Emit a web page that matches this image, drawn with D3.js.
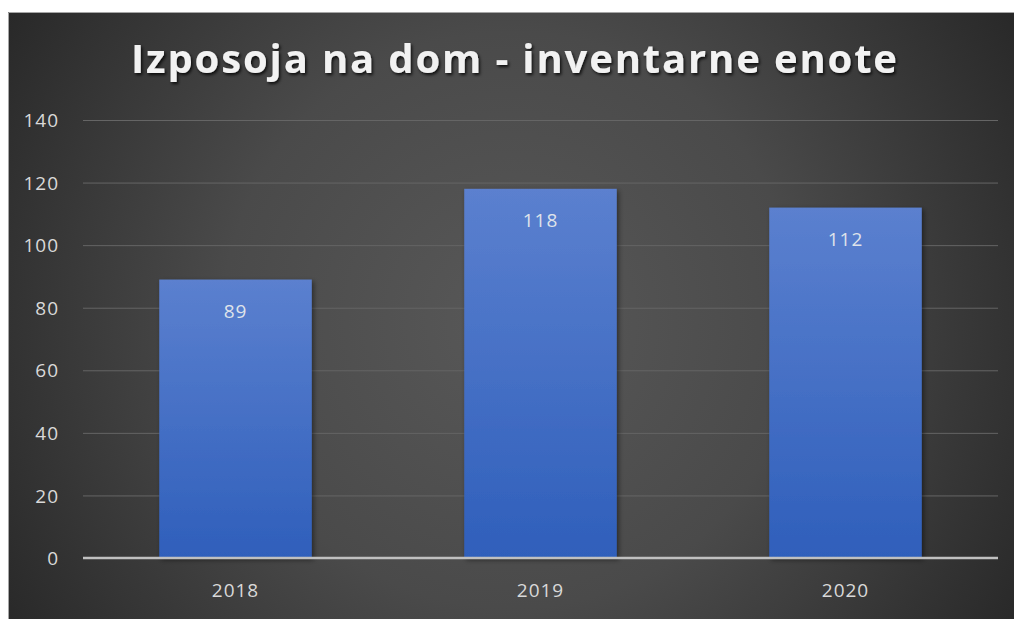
<!DOCTYPE html>
<html>
<head>
<meta charset="utf-8">
<script src="https://cdn.jsdelivr.net/npm/d3@7"></script>
<style>
  html, body { margin: 0; padding: 0; background: #ffffff; }
  svg { display: block; }
</style>
</head>
<body>
<svg id="chart" width="1014" height="619"></svg>
<script>
// Home loans - inventory units per year
const categories = ["2018", "2019", "2020"];
const values = [89, 118, 112];
const yTicks = [0, 20, 40, 60, 80, 100, 120, 140];
const title = "Izposoja na dom - inventarne enote";

const W = 1014, H = 619;
const frame = { x: 8, y: 12, w: W - 8, h: H - 12 };
const plot = { left: 83, right: 998, top: 120, bottom: 558 };
const labelFont = "'Open Sans', sans-serif";

const svg = d3.select("#chart");
const defs = svg.append("defs");

const bg = defs.append("radialGradient").attr("id", "bg")
  .attr("gradientUnits", "userSpaceOnUse")
  .attr("cx", 511).attr("cy", 320).attr("r", 640);
bg.append("stop").attr("offset", "0%").attr("stop-color", "#585858");
bg.append("stop").attr("offset", "45%").attr("stop-color", "#4a4a4a");
bg.append("stop").attr("offset", "100%").attr("stop-color", "#232323");

const barGrad = defs.append("linearGradient").attr("id", "bar")
  .attr("x1", 0).attr("y1", 0).attr("x2", 0).attr("y2", 1);
barGrad.append("stop").attr("offset", "0%").attr("stop-color", "#5b80cf");
barGrad.append("stop").attr("offset", "100%").attr("stop-color", "#2f5fbb");

const shadow = defs.append("filter").attr("id", "shadow")
  .attr("x", "-10%").attr("y", "-10%").attr("width", "130%").attr("height", "130%");
shadow.append("feDropShadow").attr("dx", 2).attr("dy", 2).attr("stdDeviation", 2.5)
  .attr("flood-color", "#000").attr("flood-opacity", 0.45);

const titleShadow = defs.append("filter").attr("id", "tshadow")
  .attr("x", "-5%").attr("y", "-30%").attr("width", "110%").attr("height", "160%");
titleShadow.append("feDropShadow").attr("dx", 1.5).attr("dy", 2).attr("stdDeviation", 1.5)
  .attr("flood-color", "#000").attr("flood-opacity", 0.8);

// chart background and frame
svg.append("rect")
  .attr("x", frame.x).attr("y", frame.y)
  .attr("width", frame.w).attr("height", frame.h)
  .attr("fill", "url(#bg)");
svg.append("path")
  .attr("d", `M${frame.x + 0.5},${H} V${frame.y + 0.5} H${W}`)
  .attr("fill", "none").attr("stroke", "#a6a6a6").attr("stroke-width", 1);

const x = d3.scaleBand().domain(categories)
  .range([plot.left, plot.right]).paddingInner(0.5).paddingOuter(0.25);
const y = d3.scaleLinear().domain([0, 140]).range([plot.bottom, plot.top]);

// horizontal gridlines
const yAxis = d3.axisLeft(y).tickValues(yTicks).tickSize(-(plot.right - plot.left)).tickPadding(24);
const gy = svg.append("g").attr("transform", `translate(${plot.left},0)`).call(yAxis);
gy.select(".domain").remove();
gy.selectAll(".tick line").attr("stroke", "#656565").attr("stroke-width", 1)
  .attr("opacity", d => d === 0 ? 0 : 1);
gy.selectAll(".tick text")
  .attr("fill", "#d9d9d9")
  .attr("font-family", labelFont)
  .attr("font-size", 19)
  .attr("letter-spacing", 1)
  .attr("text-anchor", "end")
  .attr("dy", "0.35em");

// bars
svg.append("g").selectAll("rect")
  .data(categories.map((c, i) => ({ c, v: values[i] })))
  .join("rect")
  .attr("x", d => x(d.c))
  .attr("y", d => y(d.v))
  .attr("width", x.bandwidth())
  .attr("height", d => y(0) - y(d.v))
  .attr("fill", "url(#bar)")
  .attr("filter", "url(#shadow)");

// baseline
svg.append("line")
  .attr("x1", plot.left).attr("x2", plot.right)
  .attr("y1", y(0)).attr("y2", y(0))
  .attr("stroke", "#c0c0c0").attr("stroke-width", 2.5);

// value labels inside the bars
svg.append("g").selectAll("text")
  .data(categories.map((c, i) => ({ c, v: values[i] })))
  .join("text")
  .attr("x", d => x(d.c) + x.bandwidth() / 2)
  .attr("y", d => y(d.v) + 38)
  .attr("text-anchor", "middle")
  .attr("fill", "#dfe3ea")
  .attr("font-family", labelFont)
  .attr("font-size", 19)
  .attr("letter-spacing", 1)
  .text(d => d.v);

// category axis
const xAxis = d3.axisBottom(x).tickSize(0).tickPadding(26);
const gx = svg.append("g").attr("transform", `translate(0,${y(0)})`).call(xAxis);
gx.select(".domain").remove();
gx.selectAll(".tick text")
  .attr("fill", "#d9d9d9")
  .attr("font-family", labelFont)
  .attr("font-size", 19)
  .attr("letter-spacing", 1);

// title
svg.append("text")
  .attr("x", 514).attr("y", 73)
  .attr("text-anchor", "middle")
  .attr("fill", "#f2f2f2")
  .attr("font-family", "'Open Sans', sans-serif")
  .attr("font-weight", 700)
  .attr("font-size", 40)
  .attr("textLength", 766)
  .attr("lengthAdjust", "spacing")
  .attr("filter", "url(#tshadow)")
  .text(title);
</script>
</body>
</html>
